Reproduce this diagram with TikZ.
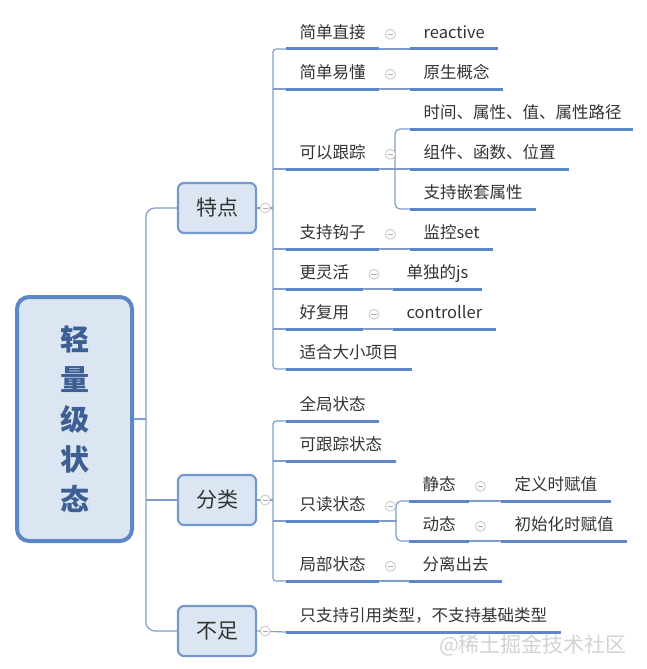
\documentclass[tikz,border=0pt]{standalone}
\usepackage{fontspec}
\setmainfont{Noto Sans CJK SC}
\usetikzlibrary{calc}
\definecolor{mapblue}{HTML}{5B87C6}
\definecolor{linkblue}{HTML}{7F9DCC}
\definecolor{boxfill}{HTML}{DCE6F2}
\definecolor{roottext}{HTML}{3E5F94}
\definecolor{inkgray}{HTML}{333333}

\tikzset{
  topic/.style={anchor=south west, inner xsep=13.5pt, inner ysep=7pt,
    text height=12pt, text depth=3pt, text=inkgray,
    font=\fontsize{16.5}{20}\selectfont},
  uline/.style={mapblue, line width=3pt},
  conn/.style={linkblue, line width=1.2pt},
  branch/.style={draw=mapblue!85, fill=boxfill, line width=2.2pt,
    rounded corners=6pt, minimum width=78pt, minimum height=50pt,
    text=inkgray, font=\fontsize{21}{24}\selectfont},
  rootbox/.style={draw=mapblue, fill=boxfill, line width=4pt,
    rounded corners=12pt, minimum width=115pt, minimum height=244pt,
    align=center, text=roottext, font=\fontsize{29}{40}\selectfont\bfseries},
  fold/.style={circle, draw=gray!50, fill=white, line width=0.7pt,
    minimum size=10pt, inner sep=0pt,
    path picture={\draw[gray!65, line width=0.7pt]
      ([xshift=-2.6pt]path picture bounding box.center) --
      ([xshift=2.6pt]path picture bounding box.center);}},
  watermark/.style={text=gray!35, font=\fontsize{21}{24}\selectfont}
}

\begin{document}
\begin{tikzpicture}[x=1pt,y=-1pt]
  \useasboundingbox (0,0) rectangle (646,669);
  % Root and branches
  \node[rootbox] (root) at (74.5,419) {轻\\量\\级\\状\\态};
  \node[branch] (tedian) at (217,208) {特点};
  \node[branch] (fenlei) at (217,500) {分类};
  \node[branch] (buzu) at (217,631) {不足};
  \coordinate (trunk) at ([xshift=-31pt]buzu.west);

  % Features
  \node[topic] (t1) at (286,49) {简单直接};
  \node[topic] (t1a) at (410,49) {reactive};
  \node[topic] (t2) at (286,89) {简单易懂};
  \node[topic] (t2a) at (410,89) {原生概念};
  \node[topic] (t3) at (286,169) {可以跟踪};
  \node[topic, text width=196pt, align=left] (t3a) at (410,129) {时间、属性、值、属性路径};
  \node[topic] (t3b) at (410,169) {组件、函数、位置};
  \node[topic] (t3c) at (410,209) {支持嵌套属性};
  \node[topic] (t4) at (286,249) {支持钩子};
  \node[topic] (t4a) at (410,249) {监控set};
  \node[topic] (t5) at (286,289) {更灵活};
  \node[topic] (t5a) at (393,289) {单独的js};
  \node[topic] (t6) at (286,329) {好复用};
  \node[topic] (t6a) at (393,329) {controller};
  \node[topic] (t7) at (286,369) {适合大小项目};

  % Kinds
  \node[topic] (f1) at (286,421) {全局状态};
  \node[topic] (f2) at (286,461) {可跟踪状态};
  \node[topic] (f3) at (286,521) {只读状态};
  \node[topic] (f3a) at (409,501) {静态};
  \node[topic] (f3a1) at (501,501) {定义时赋值};
  \node[topic] (f3b) at (409,541) {动态};
  \node[topic] (f3b1) at (501,541) {初始化时赋值};
  \node[topic] (f4) at (286,581) {局部状态};
  \node[topic] (f4a) at (409,581) {分离出去};

  % Drawbacks
  \node[topic] (b1) at (286,632) {只支持引用类型，不支持基础类型};

  % Main trunk
  \draw[conn, rounded corners=9pt] (tedian.west) -| (trunk) -- (buzu.west);
  \draw[conn] (root.east) -- (root.east -| trunk);
  \draw[conn] (fenlei.west) -- (fenlei.west -| trunk);

  % Feature trunk
  \draw[conn] (tedian.east) -- ++(16,0);
  \draw[conn, rounded corners=3pt] (t1.south west) -| ([xshift=-13pt]t7.south west) -- (t7.south west);
  \foreach \n in {t2,t3,t4,t5,t6}
    \draw[conn] (\n.south west) -- ++(-13,0);
  \foreach \a/\b in {t1/t1a,t2/t2a,t3/t3b,t4/t4a,t5/t5a,t6/t6a}
    \draw[conn] (\a.south east) -- (\b.south west);
  \draw[conn, rounded corners=5pt] (t3a.south west) -| ([xshift=-15pt]t3c.south west) -- (t3c.south west);

  % Kind trunk
  \draw[conn] (fenlei.east) -- ++(16,0);
  \draw[conn, rounded corners=3pt] (f1.south west) -| ([xshift=-13pt]f4.south west) -- (f4.south west);
  \foreach \n in {f2,f3}
    \draw[conn] (\n.south west) -- ++(-13,0);
  \draw[conn] (f3.south east) -- ++(18,0);
  \draw[conn, rounded corners=5pt] (f3a.south west) -| ([xshift=-13pt]f3b.south west) -- (f3b.south west);
  \foreach \a/\b in {f3a/f3a1,f3b/f3b1,f4/f4a}
    \draw[conn] (\a.south east) -- (\b.south west);

  % Drawback link
  \draw[conn] (buzu.east) -- (b1.south west);

  % Underlines
  \foreach \n in {t1,t1a,t2,t2a,t3,t3a,t3b,t3c,t4,t4a,t5,t5a,t6,t6a,t7,
                  f1,f2,f3,f3a,f3a1,f3b,f3b1,f4,f4a,b1}
    \draw[uline] (\n.south west) -- (\n.south east);

  % Fold markers
  \foreach \n in {tedian,fenlei,buzu}
    \node[fold] (\n-fold) at ([xshift=8pt]\n.east) {};
  \foreach \n in {t1,t2,t3,t4,t5,t6,f3,f3a,f3b,f4}
    \node[fold] (\n-fold) at ([xshift=11pt]\n.east) {};

  % Watermark
  \node[watermark] (wm) at (533,645) {@稀土掘金技术社区};
\end{tikzpicture}
\end{document}
